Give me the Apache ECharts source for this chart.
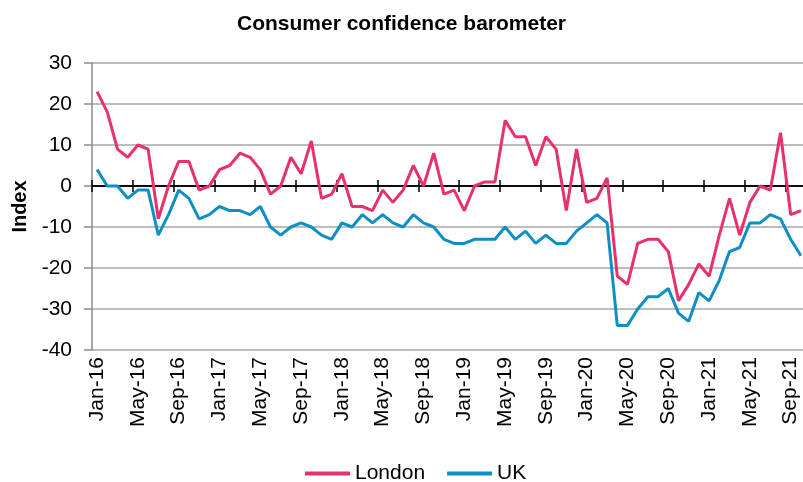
<!DOCTYPE html>
<html>
<head>
<meta charset="utf-8">
<script src="https://cdn.jsdelivr.net/npm/echarts@6/dist/echarts.min.js"></script>
<style>
  html, body { margin: 0; padding: 0; background: #fff; }
  #main { width: 803px; height: 482px; }
</style>
</head>
<body>
<div id="main"></div>
<script>
  // monthly categories Jan-16 .. Oct-21
  var monthNames = ['Jan', 'Feb', 'Mar', 'Apr', 'May', 'Jun', 'Jul', 'Aug', 'Sep', 'Oct', 'Nov', 'Dec'];
  var years = ['16', '17', '18', '19', '20', '21'];
  var categories = [];
  years.forEach(function (y) {
    monthNames.forEach(function (m) {
      categories.push(m + '-' + y);
    });
  });
  categories = categories.slice(0, 70);

  var london = [
    23, 18, 9, 7, 10, 9, -8, 0, 6, 6, -1, 0,
    4, 5, 8, 7, 4, -2, 0, 7, 3, 11, -3, -2,
    3, -5, -5, -6, -1, -4, -1, 5, 0, 8, -2, -1,
    -6, 0, 1, 1, 16, 12, 12, 5, 12, 9, -6, 9,
    -4, -3, 2, -22, -24, -14, -13, -13, -16, -28, -24, -19,
    -22, -12, -3, -12, -4, 0, -1, 13, -7, -6
  ];
  var uk = [
    4, 0, 0, -3, -1, -1, -12, -7, -1, -3, -8, -7,
    -5, -6, -6, -7, -5, -10, -12, -10, -9, -10, -12, -13,
    -9, -10, -7, -9, -7, -9, -10, -7, -9, -10, -13, -14,
    -14, -13, -13, -13, -10, -13, -11, -14, -12, -14, -14, -11,
    -9, -7, -9, -34, -34, -30, -27, -27, -25, -31, -33, -26,
    -28, -23, -16, -15, -9, -9, -7, -8, -13, -17
  ];
  var seriesNames = ['London', 'UK'];

  var font = '"Liberation Sans", Arial, sans-serif';
  var gridBox = { left: 92, right: -3, top: 63, bottom: 132, outerBoundsMode: 'none' };

  var chart = echarts.init(document.getElementById('main'), null, { renderer: 'canvas' });
  var chartOptions = {
    backgroundColor: '#ffffff',
    animation: false,

    title: {
      text: 'Consumer confidence barometer',
      left: 'center',
      top: 9,
      textStyle: { fontFamily: font, fontSize: 21, fontWeight: 'bold', color: '#000' }
    },

    legend: {
      left: 300,
      top: 458,
      icon: 'rect',
      itemWidth: 45,
      itemHeight: 4,
      itemGap: 22,
      data: seriesNames,
      textStyle: { fontFamily: font, fontSize: 21, color: '#000' }
    },

    grid: [
      Object.assign({}, gridBox),
      Object.assign({}, gridBox)
    ],

    xAxis: [
      {
        // labels along the bottom
        type: 'category',
        gridIndex: 0,
        position: 'bottom',
        data: categories,
        boundaryGap: true,
        axisLine: { show: false, onZero: false },
        axisTick: { show: false },
        axisLabel: {
          interval: 3,
          rotate: 90,
          margin: 7,
          fontFamily: font,
          fontSize: 21,
          color: '#000'
        },
        splitLine: { show: false }
      },
      {
        // zero line, upper half of the crossing ticks
        type: 'category',
        gridIndex: 0,
        position: 'top',
        data: categories,
        boundaryGap: true,
        axisLine: { show: true, onZero: true, lineStyle: { color: '#000', width: 1.5 } },
        axisTick: { show: true, interval: 3, length: 6, lineStyle: { color: '#000', width: 1.5 } },
        axisLabel: { show: false },
        splitLine: { show: false }
      },
      {
        // lower half of the crossing ticks
        type: 'category',
        gridIndex: 1,
        position: 'bottom',
        data: categories,
        boundaryGap: true,
        axisLine: { show: true, onZero: true, lineStyle: { color: '#000', width: 1.5 } },
        axisTick: { show: true, interval: 3, length: 6, lineStyle: { color: '#000', width: 1.5 } },
        axisLabel: { show: false },
        splitLine: { show: false }
      }
    ],

    yAxis: [
      {
        type: 'value',
        gridIndex: 0,
        min: -40,
        max: 30,
        interval: 10,
        name: 'Index',
        nameLocation: 'middle',
        nameGap: 61,
        nameTextStyle: { fontFamily: font, fontSize: 20, fontWeight: 'bold', color: '#000' },
        axisLine: { show: true, lineStyle: { color: '#8c8c8c', width: 1.5 } },
        axisTick: { show: true, length: 8, lineStyle: { color: '#8c8c8c', width: 1.5 } },
        axisLabel: { margin: 20, fontFamily: font, fontSize: 21, color: '#000' },
        splitLine: { show: true, lineStyle: { color: '#a6a6a6', width: 1.5 } }
      },
      {
        type: 'value',
        gridIndex: 1,
        min: -40,
        max: 30,
        interval: 10,
        axisLine: { show: false },
        axisTick: { show: false },
        axisLabel: { show: false },
        splitLine: { show: false }
      }
    ],

    series: [
      {
        name: seriesNames[0],
        type: 'line',
        xAxisIndex: 0,
        yAxisIndex: 0,
        data: london,
        symbol: 'none',
        color: '#e8306c',
        lineStyle: { width: 3, color: '#e8306c' },
        z: 3
      },
      {
        name: seriesNames[1],
        type: 'line',
        xAxisIndex: 0,
        yAxisIndex: 0,
        data: uk,
        symbol: 'none',
        color: '#0d8fc4',
        lineStyle: { width: 3, color: '#0d8fc4' },
        z: 3
      }
    ]
  };
  chart.setOption(chartOptions);
  window.addEventListener('resize', chart.resize);
</script>
</body>
</html>
